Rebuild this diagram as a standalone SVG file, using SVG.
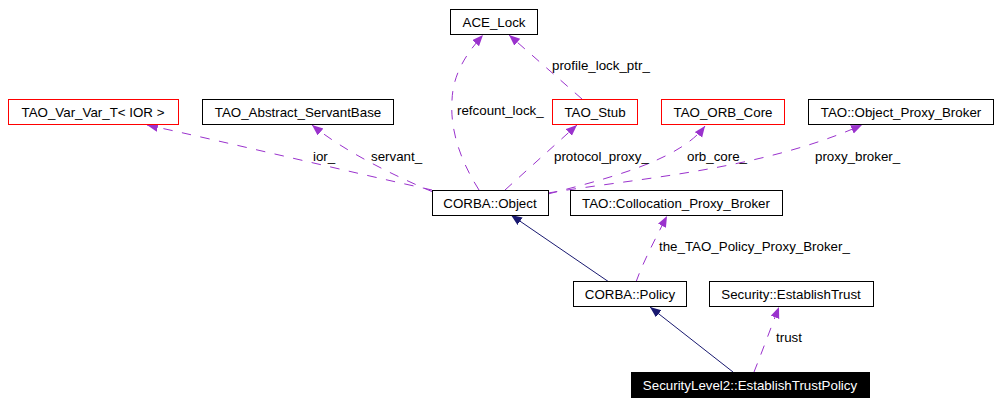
<svg xmlns="http://www.w3.org/2000/svg" width="999" height="404" viewBox="0 0 999 404">
<style>
  .box { fill: #ffffff; stroke: #000000; stroke-width: 1; }
  .red { fill: #ffffff; stroke: #ff0000; stroke-width: 1; }
  .sel { fill: #000000; stroke: #000000; stroke-width: 1; }
  text { font-family: "Liberation Sans", Arial, sans-serif; font-size: 13.33px; fill: #000000; }
  .nl { text-anchor: middle; }
  .wt { fill: #ffffff; }
  .use { fill: none; stroke: #9a32cd; stroke-width: 1; stroke-dasharray: 9.5,9.5; }
  .inh { fill: none; stroke: #191970; stroke-width: 1; }
</style>
<defs>
  <marker id="ap" markerUnits="userSpaceOnUse" markerWidth="12" markerHeight="10" refX="11" refY="4.5" orient="auto">
    <path d="M0,0 L11,4.5 L0,9 Z" fill="#9a32cd" stroke="none"/>
  </marker>
  <marker id="an" markerUnits="userSpaceOnUse" markerWidth="12" markerHeight="10" refX="11" refY="4.5" orient="auto">
    <path d="M0,0 L11,4.5 L0,9 Z" fill="#191970" stroke="none"/>
  </marker>
</defs>
<rect width="999" height="404" fill="#ffffff"/>

<g id="connectors">
  <path class="use" d="M432,190 C 350,172 230,143 147,125" marker-end="url(#ap)"/>
  <path class="use" d="M433,192 C 395,176 345,152 312,125" marker-end="url(#ap)"/>
  <path class="use" d="M479,190 C 460,160 450,130 452,100 C 453,75 465,55 483,35" marker-end="url(#ap)"/>
  <path class="use" d="M582,99 L 509,35" marker-end="url(#ap)"/>
  <path class="use" d="M505,190 L 577,125" marker-end="url(#ap)"/>
  <path class="use" d="M548,194 C 610,178 680,160 705,126" marker-end="url(#ap)"/>
  <path class="use" d="M548,193 C 640,178 760,170 862,125" marker-end="url(#ap)"/>
  <path class="use" d="M636,282 C 642,265 652,245 667,216" marker-end="url(#ap)"/>
  <path class="use" d="M754,372 C 762,352 770,330 779,307" marker-end="url(#ap)"/>
  <path class="inh" d="M609,282 L 511,215" marker-end="url(#an)"/>
  <path class="inh" d="M733,372 L 650,307" marker-end="url(#an)"/>
  <text x="313" y="161">ior_</text>
  <text x="371" y="161">servant_</text>
  <text x="457" y="115">refcount_lock_</text>
  <text x="552" y="70">profile_lock_ptr_</text>
  <text x="554" y="161">protocol_proxy_</text>
  <text x="687" y="161">orb_core_</text>
  <text x="815" y="161">proxy_broker_</text>
  <text x="659" y="251">the_TAO_Policy_Proxy_Broker_</text>
  <text x="776" y="342">trust</text>
</g>

<g id="ACE_Lock">
  <rect class="box" x="450.5" y="9.5" width="87" height="25"/>
  <text class="nl" x="494" y="27">ACE_Lock</text>
</g>
<g id="TAO_Var_Var_T">
  <rect class="red" x="8.5" y="99.5" width="170" height="25"/>
  <text class="nl" x="93" y="117">TAO_Var_Var_T&lt; IOR &gt;</text>
</g>
<g id="TAO_Abstract_ServantBase">
  <rect class="box" x="202.5" y="99.5" width="191" height="25"/>
  <text class="nl" x="298" y="117">TAO_Abstract_ServantBase</text>
</g>
<g id="TAO_Stub">
  <rect class="red" x="552.5" y="99.5" width="85" height="25"/>
  <text class="nl" x="595" y="117">TAO_Stub</text>
</g>
<g id="TAO_ORB_Core">
  <rect class="red" x="661.5" y="99.5" width="123" height="25"/>
  <text class="nl" x="723" y="117">TAO_ORB_Core</text>
</g>
<g id="TAO_Object_Proxy_Broker">
  <rect class="box" x="808.5" y="99.5" width="185" height="25"/>
  <text class="nl" x="901" y="117">TAO::Object_Proxy_Broker</text>
</g>
<g id="CORBA_Object">
  <rect class="box" x="432.5" y="190.5" width="116" height="25"/>
  <text class="nl" x="490" y="208">CORBA::Object</text>
</g>
<g id="TAO_Collocation_Proxy_Broker">
  <rect class="box" x="570.5" y="190.5" width="212" height="25"/>
  <text class="nl" x="676" y="208">TAO::Collocation_Proxy_Broker</text>
</g>
<g id="CORBA_Policy">
  <rect class="box" x="573.5" y="281.5" width="113" height="25"/>
  <text class="nl" x="630" y="299">CORBA::Policy</text>
</g>
<g id="Security_EstablishTrust">
  <rect class="box" x="709.5" y="281.5" width="164" height="25"/>
  <text class="nl" x="791" y="299">Security::EstablishTrust</text>
</g>
<g id="SecurityLevel2_EstablishTrustPolicy">
  <rect class="sel" x="631.5" y="372.5" width="238" height="25"/>
  <text class="nl wt" x="750" y="390">SecurityLevel2::EstablishTrustPolicy</text>
</g>
</svg>
